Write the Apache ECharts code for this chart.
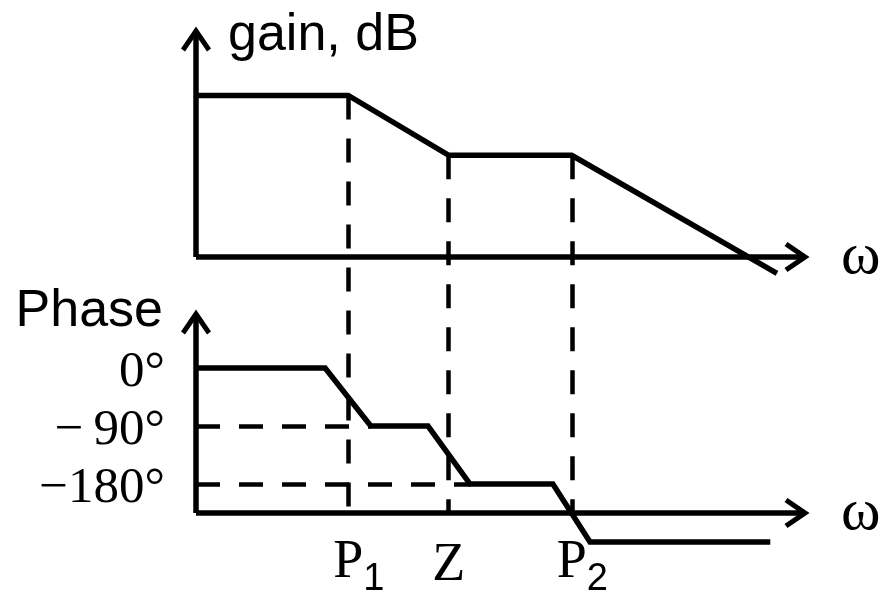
<!DOCTYPE html>
<html>
<head>
<meta charset="utf-8">
<script src="https://cdn.jsdelivr.net/npm/echarts@6/dist/echarts.min.js"></script>
<style>
  html, body { margin: 0; padding: 0; background: #fff; }
  #chart { width: 885px; height: 600px; }
</style>
</head>
<body>
<div id="chart"></div>
<script>
// Corner frequencies on the log-frequency axis (axis units 0..100)
const breakX = [25, 41.5, 61.7];
const breakLabels = ['{q|P}{s|1}', '{z|Z}', '{q|P}{s|2}'];

// Asymptotic gain curve, dB
const gainX = [0, 25, 41.5, 61.7, 95.4];
const gainY = [28.6, 28.6, 18, 18, -2.9];

// Asymptotic phase curve, degrees
const phaseX = [0, 21.2, 28.7, 38.1, 45, 58.6, 64.7, 94.3];
const phaseY = [0, 0, -90, -90, -180, -180, -270, -270];

// Phase axis ticks
const phaseTicks = [0, -90, -180];
const phaseTickLabels = ['0°', '−\u200990°', '−180°'];

const INK = '#000';
const LINE_W = 5.5;
const DASH = [24, 19];
const SERIF = 'Liberation Serif';
const SANS = 'Liberation Sans';
// open chevron arrow head, pointing along the axis
const ARROW = 'path://M15 0 L30 22 L26 25 L15 9 L4 25 L0 22 Z';

function arrowAxisLine() {
  return {
    show: true,
    onZero: false,
    symbol: ['none', ARROW],
    symbolSize: [30, 25],
    symbolOffset: [0, -8],
    lineStyle: { color: INK, width: LINE_W, cap: 'butt' }
  };
}

const hidden = { show: false };

const chart = echarts.init(document.getElementById('chart'), null, { renderer: 'canvas' });

const option = {
  animation: false,
  backgroundColor: '#ffffff',
  grid: [
    { left: 196, right: 80, top: 31, bottom: 343, outerBoundsMode: 'none', containLabel: false },
    { left: 196, right: 80, top: 314, bottom: 87, outerBoundsMode: 'none', containLabel: false }
  ],
  xAxis: [
    {
      gridIndex: 0, type: 'value', min: 0, max: 100,
      axisLine: arrowAxisLine(), axisTick: hidden, axisLabel: hidden, splitLine: hidden,
      name: 'ω', nameLocation: 'end', nameGap: 36, nameMoveOverlap: false,
      nameTextStyle: { fontFamily: SERIF, fontSize: 60, color: INK, align: 'left', verticalAlign: 'middle', padding: [0, 0, 8, 0] }
    },
    {
      gridIndex: 1, type: 'value', min: 0, max: 100,
      axisLine: arrowAxisLine(), axisTick: hidden, splitLine: hidden,
      axisLabel: {
        show: true,
        customValues: breakX,
        margin: 23,
        formatter: function (v) { return breakLabels[breakX.indexOf(v)]; },
        verticalAlign: 'top',
        rich: {
          z: { fontFamily: SERIF, fontSize: 54, color: INK, lineHeight: 54, padding: [6, 0, 0, 0] },
          q: { fontFamily: SERIF, fontSize: 54, color: INK, lineHeight: 54, padding: [0, 0, 0, 21] },
          s: { fontFamily: SANS, fontSize: 38, color: INK, lineHeight: 38, padding: [34, 0, 0, 0] }
        }
      },
      name: 'ω', nameLocation: 'end', nameGap: 36, nameMoveOverlap: false,
      nameTextStyle: { fontFamily: SERIF, fontSize: 60, color: INK, align: 'left', verticalAlign: 'middle', padding: [0, 0, 30, 0] }
    }
  ],
  yAxis: [
    {
      gridIndex: 0, type: 'value', min: 0, max: 40,
      axisLine: arrowAxisLine(), axisTick: hidden, axisLabel: hidden, splitLine: hidden,
      name: 'gain, dB', nameLocation: 'end', nameGap: -5, nameMoveOverlap: false,
      nameTextStyle: { fontFamily: SANS, fontSize: 52, color: INK, align: 'left', verticalAlign: 'middle', padding: [0, 0, 0, 32] }
    },
    {
      gridIndex: 1, type: 'value', min: -225, max: 84,
      axisLine: arrowAxisLine(), axisTick: hidden, splitLine: hidden,
      axisLabel: {
        show: true,
        customValues: phaseTicks,
        margin: 31,
        formatter: function (v) { return phaseTickLabels[phaseTicks.indexOf(v)]; },
        fontFamily: SERIF, fontSize: 51, color: INK,
        verticalAlign: 'top', lineHeight: 10
      },
      name: 'Phase', nameLocation: 'end', nameGap: 2, nameMoveOverlap: false,
      nameTextStyle: { fontFamily: SANS, fontSize: 52, color: INK, align: 'right', verticalAlign: 'middle', padding: [0, 33, 0, 0] }
    }
  ],
  series: [
    {
      id: 'gain', type: 'line', xAxisIndex: 0, yAxisIndex: 0,
      data: gainX.map(function (x, i) { return [x, gainY[i]]; }),
      symbol: 'none', clip: false, silent: true,
      lineStyle: { color: INK, width: LINE_W, join: 'miter' }
    },
    {
      id: 'phase', type: 'line', xAxisIndex: 1, yAxisIndex: 1,
      data: phaseX.map(function (x, i) { return [x, phaseY[i]]; }),
      symbol: 'none', clip: false, silent: true,
      lineStyle: { color: INK, width: LINE_W, join: 'miter' },
      markLine: {
        silent: true, symbol: 'none', label: { show: false }, emphasis: { disabled: true },
        lineStyle: { color: INK, width: 4.5, type: DASH, cap: 'butt' },
        data: [
          [{ coord: [0, phaseY[2]] }, { coord: [phaseX[2], phaseY[2]] }],
          [{ coord: [0, phaseY[4]] }, { coord: [phaseX[4], phaseY[4]] }]
        ]
      }
    }
  ]
};

chart.setOption(option);

// Vertical guides from each gain corner down to the phase frequency axis
const phaseFloor = option.yAxis[1].min;
const guides = breakX.map(function (b) {
  const top = chart.convertToPixel({ gridIndex: 0 }, [b, gainY[gainX.indexOf(b)]]);
  const bottom = chart.convertToPixel({ gridIndex: 1 }, [b, phaseFloor]);
  return [{ x: top[0], y: top[1] }, { x: bottom[0], y: bottom[1] }];
});

chart.setOption({
  series: [{
    id: 'gain',
    markLine: {
      silent: true, symbol: 'none', label: { show: false }, emphasis: { disabled: true },
      lineStyle: { color: INK, width: 4.5, type: DASH, cap: 'butt' },
      data: guides
    }
  }]
});
</script>
</body>
</html>
